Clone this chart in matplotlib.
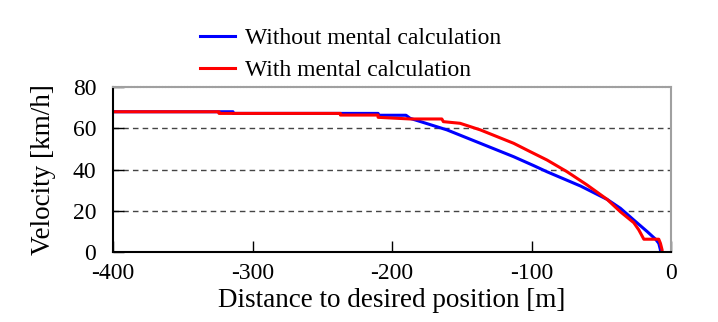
import matplotlib
matplotlib.use("Agg")
import matplotlib.pyplot as plt
import numpy as np

# Without mental calculation (blue)
x_without = [-400, -314, -314, -210, -210, -190, -187, -160.6, -136.7, -112.8, -98.5,
             -88.9, -64.9, -45.8, -36.3, -26.7, -17.1, -11.1, -8.8, -7.6, -7.6]
v_without = [68.0, 68.0, 67.2, 67.2, 66.3, 66.3, 64.8, 59.2, 52.7, 46.2, 41.9,
             38.9, 32.0, 25.5, 21.2, 15.5, 9.9, 6.2, 4.2, 1.0, 0.0]

# With mental calculation (red)
x_with = [-400, -324, -324, -237, -237, -210, -210, -187, -164.3, -163.2, -151.2,
          -136.7, -112.8, -100.8, -88.9, -74.5, -60.2, -45.8, -36.3, -26.7, -23.1,
          -19.5, -8.8, -7.6, -6.4, -6.4]
v_with = [68.0, 68.0, 67.2, 67.2, 66.4, 66.4, 65.3, 64.5, 64.5, 63.2, 62.4,
          59.2, 52.7, 48.6, 44.6, 38.9, 32.5, 25.5, 19.5, 14.2, 10.7,
          6.2, 6.2, 4.2, 1.0, 0.0]

xticks = [-400, -300, -200, -100, 0]
yticks = [0, 20, 40, 60, 80]

plt.rcParams['font.family'] = ['Liberation Serif', 'DejaVu Serif']

fig = plt.figure(figsize=(7.18, 3.22), dpi=100)
ax = fig.add_axes([0.1574, 0.2174, 0.7772, 0.5124])

l1, = ax.plot(x_without, v_without, color='#0000ff', lw=2.2, label='Without mental calculation')
l2, = ax.plot(x_with, v_with, color='#ff0000', lw=2.2, label='With mental calculation')

ax.set_xlim(-400, 0)
ax.set_ylim(0, 80)
ax.set_xticks(xticks)
ax.set_yticks(yticks)
ax.set_xticklabels([str(t) for t in xticks], fontsize=17)
ax.set_yticklabels([str(t) for t in yticks], fontsize=17)
ax.tick_params(direction='in', length=8, width=1, color='black')
ax.tick_params(axis='x', pad=8)
ax.tick_params(axis='y', pad=12)
for y in [20, 40, 60]:
    ax.axhline(y, color='#444444', lw=1.0, ls=(0, (4, 3)), zorder=0)

for s in ['left', 'bottom']:
    ax.spines[s].set_color('black')
    ax.spines[s].set_linewidth(1.5)
for s in ['top', 'right']:
    ax.spines[s].set_color('#a0a0a0')
    ax.spines[s].set_linewidth(1.5)
ax.spines['top'].set_linestyle((0, (1, 0.5)))

ax.set_xlabel('Distance to desired position [m]', fontsize=19.5, labelpad=3)
ax.set_ylabel('Velocity [km/h]', fontsize=19.5, labelpad=12)

fig.legend(handles=[l1, l2], loc='upper left', bbox_to_anchor=(0.255, 0.965),
           frameon=False, fontsize=17, handlelength=1.5, handletextpad=0.42,
           labelspacing=0.42, borderaxespad=0.3)

fig.savefig('out.png', dpi=100)
